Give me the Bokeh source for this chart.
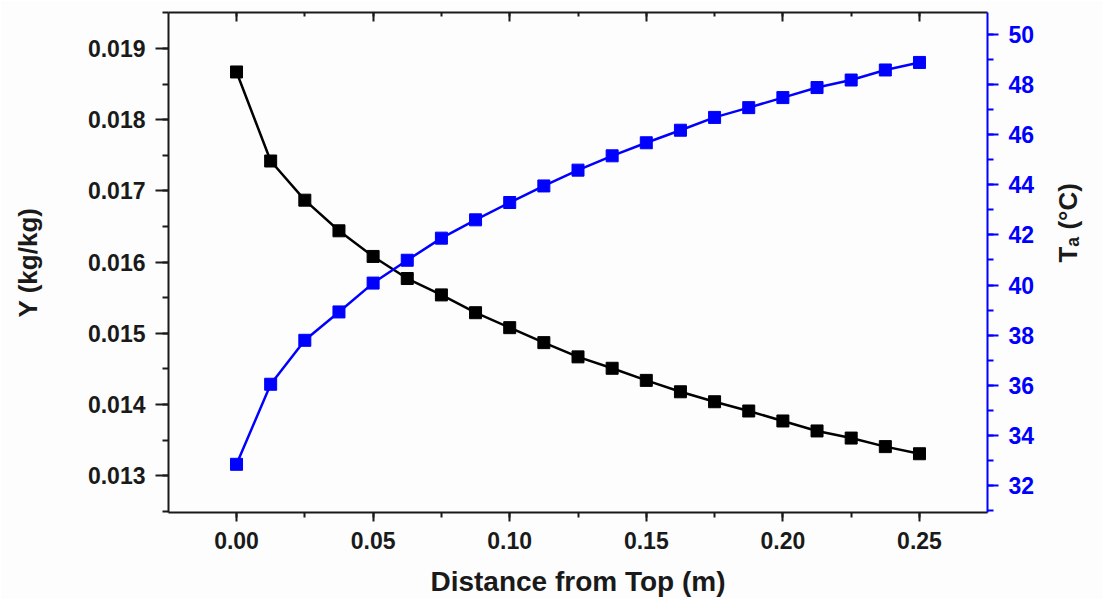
import math
from bokeh.plotting import figure
from bokeh.models import Range1d, LinearAxis, SingleIntervalTicker, CustomJSTickFormatter
from bokeh.embed import file_html
from bokeh.resources import INLINE

# ---- data ----
distance = [0.0, 0.0125, 0.025, 0.0375, 0.05, 0.0625, 0.075, 0.0875, 0.10, 0.1125,
            0.125, 0.1375, 0.15, 0.1625, 0.175, 0.1875, 0.20, 0.2125, 0.225, 0.2375, 0.25]
humidity_Y = [0.01867, 0.01742, 0.01687, 0.01644, 0.01608, 0.01577, 0.01554, 0.01529,
              0.01508, 0.01487, 0.01467, 0.01451, 0.01434, 0.01418, 0.01404, 0.01391,
              0.01377, 0.01363, 0.01353, 0.01341, 0.01331]
air_temp_Ta = [32.86, 36.05, 37.80, 38.93, 40.08, 40.99, 41.87, 42.60, 43.29, 43.95,
               44.58, 45.15, 45.67, 46.17, 46.68, 47.07, 47.47, 47.87, 48.17, 48.57, 48.87]

x_label = "Distance from Top (m)"
y_label = "Y (kg/kg)"
t_label = "T\u2090 (\u00b0C)"

FONT = "Liberation Sans"
TXT = "#1a1a1a"
BLUE = "#0000ff"
BG = "#fdfdfd"

p = figure(width=1103, height=599, output_backend="svg", toolbar_location=None,
           x_range=Range1d(-0.0249, 0.2749), y_range=Range1d(0.012485, 0.019505),
           min_border_left=168, min_border_right=116, min_border_top=12, min_border_bottom=87,
           x_axis_location=None, y_axis_location=None)
p.extra_y_ranges = {"T": Range1d(30.94, 50.86)}
p.outline_line_color = None
p.xgrid.visible = False
p.ygrid.visible = False
p.background_fill_color = BG
p.border_fill_color = BG


def style_axis(ax, color, out_major, out_minor, in_major=0, in_minor=0):
    ax.axis_line_color = color
    ax.axis_line_width = 2
    ax.major_tick_line_color = color
    ax.minor_tick_line_color = color
    ax.major_tick_line_width = 2
    ax.minor_tick_line_width = 2
    ax.major_tick_out = out_major
    ax.minor_tick_out = out_minor
    ax.major_tick_in = in_major
    ax.minor_tick_in = in_minor
    ax.major_label_text_font = FONT
    ax.major_label_text_font_style = "bold"
    ax.major_label_text_font_size = "23px"
    ax.major_label_text_color = BLUE if color == BLUE else TXT
    ax.major_label_standoff = 10
    ax.axis_label_text_font = FONT
    ax.axis_label_text_font_style = "bold"
    ax.axis_label_text_color = TXT


# bottom axis
xb = LinearAxis(ticker=SingleIntervalTicker(interval=0.05, num_minor_ticks=2),
                formatter=CustomJSTickFormatter(code="return tick.toFixed(2);"))
style_axis(xb, TXT, 9, 5)
xb.axis_label = x_label
xb.axis_label_text_font_size = "28px"
xb.axis_label_standoff = 14
p.add_layout(xb, "below")

# top axis (frame line with inward ticks, no labels)
xt = LinearAxis(ticker=SingleIntervalTicker(interval=0.05, num_minor_ticks=2))
style_axis(xt, TXT, 0, 0, 9, 4)
xt.major_label_text_color = None
xt.major_label_text_font_size = "1px"
xt.major_label_standoff = 0
p.add_layout(xt, "above")

# left axis
yl = LinearAxis(ticker=SingleIntervalTicker(interval=0.001, num_minor_ticks=2),
                formatter=CustomJSTickFormatter(code="return tick.toFixed(3);"))
style_axis(yl, TXT, 13, 6)
yl.axis_label = y_label
yl.axis_label_text_font_size = "26px"
yl.axis_label_standoff = 42
p.add_layout(yl, "left")

# right axis (blue)
yr = LinearAxis(y_range_name="T", ticker=SingleIntervalTicker(interval=2, num_minor_ticks=2))
style_axis(yr, BLUE, 11, 6)
yr.axis_label = t_label
yr.axis_label_text_font_size = "26px"
yr.axis_label_standoff = 31
try:
    yr.axis_label_orientation = math.pi / 2
except Exception:
    pass
p.add_layout(yr, "right")

# series
p.line(distance, humidity_Y, line_color="black", line_width=2.5)
p.scatter(distance, humidity_Y, marker="square", size=12, fill_color="black", line_color="black")
p.line(distance, air_temp_Ta, line_color=BLUE, line_width=2.5, y_range_name="T")
p.scatter(distance, air_temp_Ta, marker="square", size=12, fill_color=BLUE, line_color=BLUE,
          y_range_name="T")

open("out.html", "w").write(file_html(p, INLINE))
